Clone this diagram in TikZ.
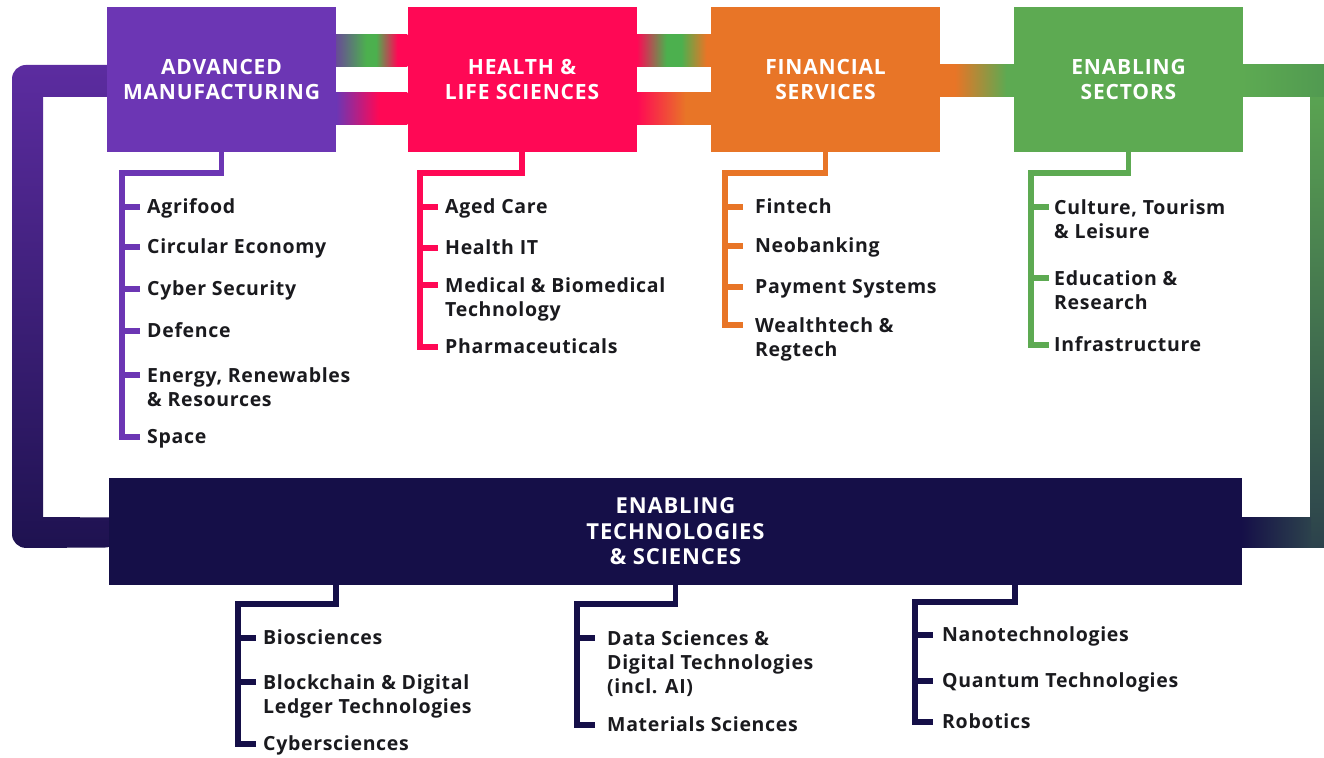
\documentclass[tikz,border=0pt]{standalone}
\usepackage{fontspec}
\IfFontExistsTF{Noto Sans Bold}
  {\setmainfont{Noto Sans}[BoldFont={Noto Sans Bold}]}
  {\setmainfont{Open Sans}}
\usetikzlibrary{calc}
\definecolor{amc}{RGB}{108,54,180}
\definecolor{hlc}{RGB}{255,8,85}
\definecolor{fsc}{RGB}{232,117,39}
\definecolor{esc}{RGB}{93,170,82}
\definecolor{etc}{RGB}{21,15,72}
\definecolor{ink}{RGB}{26,26,30}
\definecolor{grn}{RGB}{76,176,78}
\definecolor{slate}{RGB}{44,66,76}
\definecolor{esdark}{RGB}{78,150,80}
\definecolor{amgray}{RGB}{104,76,150}
\definecolor{amloop}{RGB}{92,44,160}
\definecolor{etloop}{RGB}{30,18,80}
\pgfdeclarehorizontalshading{bandAtop}{100bp}{color(0bp)=(amgray); color(25bp)=(amgray); color(46bp)=(grn); color(53bp)=(grn); color(68bp)=(hlc); color(100bp)=(hlc)}
\pgfdeclarehorizontalshading{bandAbot}{100bp}{color(0bp)=(amc); color(25bp)=(amc); color(55bp)=(hlc); color(100bp)=(hlc)}
\pgfdeclarehorizontalshading{bandBtop}{100bp}{color(0bp)=(hlc); color(25bp)=(hlc); color(45bp)=(grn); color(55bp)=(grn); color(72bp)=(fsc); color(100bp)=(fsc)}
\pgfdeclarehorizontalshading{bandBbot}{100bp}{color(0bp)=(hlc); color(25bp)=(hlc); color(58bp)=(fsc); color(100bp)=(fsc)}
\pgfdeclarehorizontalshading{bandC}{100bp}{color(0bp)=(fsc); color(35bp)=(fsc); color(70bp)=(esc); color(100bp)=(esc)}
\tikzset{
  hdr/.style={minimum width=229pt, minimum height=145pt, inner sep=0pt, align=center, text=white,
    font=\bfseries\fontsize{21}{25}\selectfont\addfontfeatures{LetterSpace=4}},
  bighdr/.style={hdr, minimum width=1133pt, minimum height=107pt,
    font=\bfseries\fontsize{22}{25.5}\selectfont\addfontfeatures{LetterSpace=4}},
  leaf/.style={anchor=west, inner sep=0pt, align=left, text=ink, yshift=-2pt,
    execute at begin node=\strut, execute at end node=\strut,
    font=\bfseries\fontsize{19.5}{24}\selectfont\addfontfeatures{LetterSpace=3.5}},
  ml/.style={yshift=-2pt},
  tree/.style={line width=5.5pt, line join=miter, line cap=butt},
  tick/.style={line width=5.5pt, line cap=butt}
}
\begin{document}
\begin{tikzpicture}[x=1pt,y=-1pt]
\useasboundingbox (0,0) rectangle (1324,757);
\begin{scope}
\clip (0,0) rectangle (1324,757);
% ---- nodes (boxes), placed first so the bands can refer to them ----
\path node[hdr, fill=amc] (am) at (221.5,79.5) {ADVANCED\\MANUFACTURING}
      node[hdr, fill=hlc] (hl) at (522,79.5) {HEALTH \&\\LIFE SCIENCES}
      node[hdr, fill=fsc] (fs) at (825.5,79.5) {FINANCIAL\\SERVICES}
      node[hdr, fill=esc] (es) at (1128.5,79.5) {ENABLING\\SECTORS}
      node[bighdr, fill=etc] (et) at (675.5,531.5) {ENABLING\\TECHNOLOGIES\\\& SCIENCES};
% ---- bands between boxes ----
\shade[shading=bandAtop] ($(am.north east)+(0,28)$) rectangle ($(hl.north west)+(0,60)$);
\shade[shading=bandAbot] ($(am.north east)+(0,86)$) rectangle ($(hl.north west)+(0,118)$);
\shade[shading=bandBtop] ($(hl.north east)+(0,28)$) rectangle ($(fs.north west)+(0,60)$);
\shade[shading=bandBbot] ($(hl.north east)+(0,86)$) rectangle ($(fs.north west)+(0,118)$);
\shade[shading=bandC] ($(fs.north east)+(0,58)$) rectangle ($(es.north west)+(0,90)$);
% left loop
\shade[top color=amloop, bottom color=etloop]
  ($(am.north west)+(1,58)$) [rounded corners=14pt] -- (12,65) -- (12,548) -- ($(et.west)+(10,16)$) [sharp corners]
  -- ($(et.west)+(10,-14)$) -- (43,517) -- (43,97) -- ($(am.north west)+(1,90)$) -- cycle;
% right loop
\shade[top color=esc, bottom color=slate] (1310,65) rectangle (1345,547);
\shade[left color=esc, right color=esdark] ($(es.north east)+(-1,58)$) rectangle (1345,97);
\shade[left color=etc, right color=slate] ($(et.east)+(-1,-14)$) rectangle (1311,547);
% boxes drawn over the bands
\node[hdr, fill=amc] at (am) {ADVANCED\\MANUFACTURING};
\node[hdr, fill=hlc] at (hl) {HEALTH \&\\LIFE SCIENCES};
\node[hdr, fill=fsc] at (fs) {FINANCIAL\\SERVICES};
\node[hdr, fill=esc] at (es) {ENABLING\\SECTORS};
\node[bighdr, fill=etc] at (et) {ENABLING\\TECHNOLOGIES\\\& SCIENCES};
% ---- Advanced manufacturing tree ----
\node[leaf] (a1) at (147,207) {Agrifood};
\node[leaf] (a2) at (147,247) {Circular Economy};
\node[leaf] (a3) at (147,289) {Cyber Security};
\node[leaf] (a4) at (147,331) {Defence};
\node[leaf, ml] (a5) at (147,387) {Energy, Renewables\\\& Resources};
\node[leaf] (a6) at (147,437) {Space};
\draw[tree, amc] (am.south) -- (221.5,173) -- (122,173) -- (122,437) -- (140,437);
\foreach \y in {207,247,289,331,375} \draw[tick, amc] (122,\y) -- (140,\y);
% ---- Health tree ----
\node[leaf] (h1) at (445,207) {Aged Care};
\node[leaf] (h2) at (445,248) {Health IT};
\node[leaf, ml] (h3) at (445,297) {Medical \& Biomedical\\Technology};
\node[leaf] (h4) at (445,347) {Pharmaceuticals};
\draw[tree, hlc] (hl.south) -- (522,173) -- (420,173) -- (420,347) -- (438,347);
\foreach \y in {207,248,285} \draw[tick, hlc] (420,\y) -- (438,\y);
% ---- Financial tree ----
\node[leaf] (f1) at (755,207) {Fintech};
\node[leaf] (f2) at (755,246) {Neobanking};
\node[leaf] (f3) at (755,287) {Payment Systems};
\node[leaf, ml] (f4) at (755,337) {Wealthtech \&\\Regtech};
\draw[tree, fsc] (fs.south) -- (825.5,173) -- (725,173) -- (725,325) -- (743,325);
\foreach \y in {207,246,287} \draw[tick, fsc] (725,\y) -- (743,\y);
% ---- Enabling sectors tree ----
\node[leaf, ml] (e1) at (1054,219) {Culture, Tourism\\\& Leisure};
\node[leaf, ml] (e2) at (1054,290) {Education \&\\Research};
\node[leaf] (e3) at (1054,345) {Infrastructure};
\draw[tree, esc] (es.south) -- (1128.5,173) -- (1031,173) -- (1031,345) -- (1049,345);
\foreach \y in {207,278} \draw[tick, esc] (1031,\y) -- (1049,\y);
% ---- Enabling technologies trees ----
\node[leaf] (t1) at (263,638) {Biosciences};
\node[leaf, ml] (t2) at (263,694) {Blockchain \& Digital\\Ledger Technologies};
\node[leaf] (t3) at (263,744) {Cybersciences};
\draw[tree, etc] ($(et.south)+(-339.5,0)$) -- (336,604) -- (238,604) -- (238,744) -- (256,744);
\foreach \y in {638,682} \draw[tick, etc] (238,\y) -- (256,\y);
\node[leaf, ml] (t4) at (607,662) {Data Sciences \&\\Digital Technologies\\(incl. AI)};
\node[leaf] (t5) at (607,725) {Materials Sciences};
\draw[tree, etc] (et.south) -- (675.5,604) -- (577,604) -- (577,725) -- (595,725);
\foreach \y in {638} \draw[tick, etc] (577,\y) -- (595,\y);
\node[leaf] (t6) at (942,635) {Nanotechnologies};
\node[leaf] (t7) at (942,681) {Quantum Technologies};
\node[leaf] (t8) at (942,722) {Robotics};
\draw[tree, etc] ($(et.south)+(339.5,0)$) -- (1015,602) -- (915,602) -- (915,722) -- (933,722);
\foreach \y in {635,681} \draw[tick, etc] (915,\y) -- (933,\y);
\end{scope}
\end{tikzpicture}
\end{document}
